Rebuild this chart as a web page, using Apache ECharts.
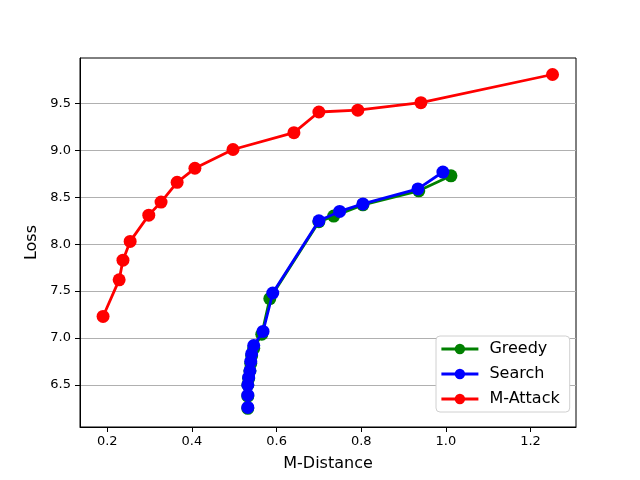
<!DOCTYPE html>
<html>
<head>
<meta charset="utf-8">
<script src="https://cdn.jsdelivr.net/npm/echarts@6/dist/echarts.min.js"></script>
<style>html,body{margin:0;padding:0;background:#fff;}#c{width:640px;height:480px;}</style>
</head>
<body>
<div id="c"></div>
<script>
const greedyX = [0.532, 0.532, 0.532, 0.534, 0.537, 0.539, 0.541, 0.546, 0.565, 0.584, 0.700, 0.735, 0.804, 0.936, 1.012];
const greedyY = [6.25, 6.38, 6.50, 6.57, 6.65, 6.73, 6.81, 6.89, 7.04, 7.42, 8.24, 8.30, 8.42, 8.57, 8.73];
const searchX = [0.532, 0.532, 0.532, 0.534, 0.537, 0.539, 0.541, 0.546, 0.568, 0.591, 0.700, 0.749, 0.804, 0.934, 0.993];
const searchY = [6.26, 6.39, 6.50, 6.58, 6.65, 6.75, 6.83, 6.92, 7.07, 7.48, 8.25, 8.35, 8.43, 8.59, 8.77];
const mattackX = [0.190, 0.228, 0.237, 0.254, 0.298, 0.327, 0.365, 0.407, 0.497, 0.641, 0.700, 0.792, 0.941, 1.252];
const mattackY = [7.23, 7.62, 7.83, 8.03, 8.31, 8.45, 8.66, 8.81, 9.01, 9.19, 9.41, 9.43, 9.51, 9.81];
const xTicks = [0.2, 0.4, 0.6, 0.8, 1.0, 1.2];
const yTicks = [6.5, 7.0, 7.5, 8.0, 8.5, 9.0, 9.5];

const pairs = (xs, ys) => xs.map((x, i) => [x, ys[i]]);
const font = 'DejaVu Sans';

const chart = echarts.init(document.getElementById('c'), null, {renderer: 'canvas'});
function mkSeries(name, xs, ys, color, z) {
  return {
    name: name, type: 'line', data: pairs(xs, ys), z: z,
    symbol: 'circle', symbolSize: 13, showSymbol: true,
    lineStyle: {color: color, width: 2.8},
    itemStyle: {color: color},
    emphasis: {disabled: true}, animation: false
  };
}
const gridSeries = {
  type: 'line', data: [], silent: true, z: 0,
  markLine: {
    silent: true, symbol: ['none', 'none'], animation: false, z: 0,
    label: {show: false},
    lineStyle: {color: '#b0b0b0', width: 1, type: 'solid'},
    emphasis: {disabled: true},
    data: yTicks.map(v => ({yAxis: v}))
  }
};
chart.setOption({
  animation: false,
  backgroundColor: '#fff',
  grid: {left: 80, right: 64, top: 58, bottom: 53, show: true, borderColor: '#000', borderWidth: 1, backgroundColor: 'transparent'},
  xAxis: {
    type: 'value', min: 0.1355, max: 1.3075,
    name: 'M-Distance', nameLocation: 'middle', nameGap: 29,
    nameTextStyle: {fontFamily: font, fontSize: 16, color: '#000'},
    axisLine: {show: true, lineStyle: {color: '#000', width: 1}},
    axisTick: {show: true, length: 5, lineStyle: {color: '#000'}, customValues: xTicks},
    axisLabel: {fontFamily: font, fontSize: 13, color: '#000', margin: 8, customValues: xTicks, formatter: v => v.toFixed(1)},
    splitLine: {show: false}
  },
  yAxis: {
    type: 'value', min: 6.051, max: 9.986,
    name: 'Loss', nameLocation: 'middle', nameGap: 38,
    nameTextStyle: {fontFamily: font, fontSize: 16, color: '#000'},
    axisLine: {show: true, lineStyle: {color: '#000', width: 1}},
    axisTick: {show: true, length: 5, lineStyle: {color: '#000'}, customValues: yTicks},
    axisLabel: {fontFamily: font, fontSize: 13, color: '#000', margin: 9, customValues: yTicks, formatter: v => v.toFixed(1)},
    splitLine: {show: false}
  },
  legend: {
    orient: 'vertical', left: 436, top: 336,
    data: ['Greedy', 'Search', 'M-Attack'],
    backgroundColor: '#fff', borderColor: '#d0d0d0', borderWidth: 1, borderRadius: 4,
    padding: [5, 10, 5, 4],
    itemWidth: 37, itemHeight: 13, itemGap: 9,
    lineStyle: {width: 2.8},
    textStyle: {fontFamily: font, fontSize: 16, color: '#000', padding: [0, 0, 0, 6]},
    selectedMode: false
  },
  series: [
    gridSeries,
    mkSeries('Greedy', greedyX, greedyY, '#008000', 2),
    mkSeries('Search', searchX, searchY, '#0000ff', 3),
    mkSeries('M-Attack', mattackX, mattackY, '#ff0000', 4)
  ]
});
</script>
</body>
</html>
